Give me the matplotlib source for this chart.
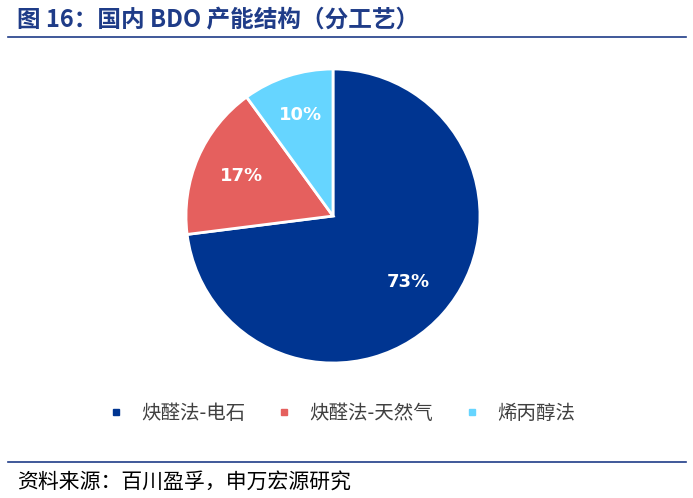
import matplotlib
matplotlib.use("Agg")
import matplotlib.pyplot as plt
from matplotlib.lines import Line2D
import numpy as np

plt.rcParams['font.family'] = ['Noto Sans CJK SC', 'DejaVu Sans']

labels = ["炔醛法-电石", "炔醛法-天然气", "烯丙醇法"]
values = [73, 17, 10]
colors = ["#003591", "#E5605E", "#66D5FF"]
pct_labels = ["73%", "17%", "10%"]

fig = plt.figure(figsize=(6.93, 4.98), dpi=100)
title_c = "#1F3C88"
fig.text(0.025, 0.96, "图 16：国内 BDO 产能结构（分工艺）", fontsize=17, fontweight='bold',
         color=title_c, va='center', ha='left')
fig.add_artist(Line2D([0.012, 0.99], [0.925, 0.925], color=title_c, lw=1.2))
fig.add_artist(Line2D([0.012, 0.99], [0.072, 0.072], color=title_c, lw=1.2))
fig.text(0.025, 0.032, "资料来源：百川盈孚，申万宏源研究", fontsize=15, color='black', va='center')

r = 147
ax = fig.add_axes([(333 - r) / 693, 1 - (216 + r) / 498, 2 * r / 693, 2 * r / 498])
ax.pie(values, colors=colors, startangle=90, counterclock=False,
       wedgeprops=dict(edgecolor='white', linewidth=2))
cum = 0
for v, t, d in zip(values, pct_labels, [0.68, 0.68, 0.72]):
    mid = np.deg2rad(90 - (cum + v / 2) * 3.6)
    cum += v
    ax.text(d * np.cos(mid), d * np.sin(mid), t, color='white', fontsize=13,
            fontweight='bold', ha='center', va='center', family=['DejaVu Sans'])
ax.set_xlim(-1, 1)
ax.set_ylim(-1, 1)
ax.set_aspect('equal')

handles = [Line2D([], [], marker='s', ls='', color=c, markersize=4) for c in colors]
fig.legend(handles, labels, loc='center', bbox_to_anchor=(0.485, 0.17), ncol=3,
           frameon=False, fontsize=14, handletextpad=0.3, columnspacing=1.0,
           labelcolor='#404040')
fig.savefig("out.png", dpi=100)
